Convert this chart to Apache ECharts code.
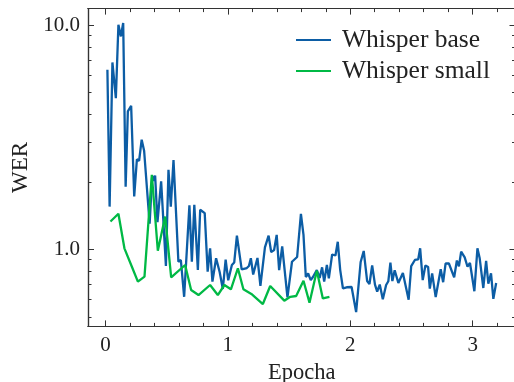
<!DOCTYPE html>
<html>
<head>
<meta charset="utf-8">
<script src="https://cdn.jsdelivr.net/npm/echarts@6/dist/echarts.min.js"></script>
<style>
  html, body { margin: 0; padding: 0; background: #fff; }
  #chart { width: 514px; height: 382px; }
</style>
</head>
<body>
<div id="chart"></div>
<script>
// Whisper base: [epoch, WER]
var baseEpoch = [0.016, 0.034, 0.057, 0.085, 0.106, 0.126, 0.145, 0.165, 0.183, 0.210,
  0.235, 0.257, 0.275, 0.296, 0.316, 0.361, 0.382, 0.395, 0.406, 0.425,
  0.455, 0.494, 0.515, 0.534, 0.556, 0.596, 0.616, 0.643, 0.686, 0.706,
  0.726, 0.755, 0.774, 0.811, 0.835, 0.855, 0.874, 0.904, 0.933, 0.959,
  0.982, 1.003, 1.033, 1.052, 1.074, 1.113, 1.155, 1.172, 1.188, 1.207,
  1.242, 1.266, 1.303, 1.333, 1.354, 1.378, 1.399, 1.419, 1.444, 1.487,
  1.524, 1.566, 1.597, 1.618, 1.637, 1.656, 1.677, 1.694, 1.727, 1.750,
  1.770, 1.787, 1.809, 1.825, 1.852, 1.879, 1.898, 1.918, 1.940, 1.971,
  2.011, 2.048, 2.085, 2.110, 2.138, 2.157, 2.179, 2.202, 2.220, 2.241,
  2.266, 2.293, 2.311, 2.328, 2.344, 2.363, 2.393, 2.430, 2.477, 2.498,
  2.528, 2.555, 2.571, 2.592, 2.614, 2.636, 2.650, 2.669, 2.698, 2.739,
  2.759, 2.779, 2.806, 2.849, 2.871, 2.888, 2.906, 2.935, 2.958, 2.978,
  3.014, 3.039, 3.057, 3.087, 3.110, 3.128, 3.150, 3.169, 3.192];
var baseWer = [6.32, 1.55, 6.81, 4.72, 10.03, 8.90, 10.21, 1.90, 4.12, 4.36,
  1.72, 2.52, 2.48, 3.08, 2.75, 1.30, 2.13, 2.02, 2.13, 1.32,
  2.01, 0.842, 2.26, 1.55, 2.50, 0.880, 0.896, 0.614, 1.57, 0.880,
  1.58, 0.808, 1.50, 1.45, 0.794, 1.01, 0.717, 0.912, 0.792, 0.665,
  0.899, 0.727, 0.851, 0.873, 1.15, 0.814, 0.825, 0.842, 0.912, 0.772,
  0.915, 0.686, 1.02, 1.15, 0.973, 0.993, 1.16, 0.808, 1.03, 0.610,
  0.880, 0.924, 1.44, 1.16, 0.752, 0.780, 0.729, 0.750, 0.808, 0.745,
  0.831, 0.717, 0.851, 0.742, 0.948, 0.938, 1.08, 0.808, 0.670, 0.677,
  0.679, 0.525, 0.878, 0.983, 0.722, 0.700, 0.848, 0.696, 0.647, 0.696,
  0.598, 0.693, 0.720, 0.871, 0.722, 0.806, 0.707, 0.784, 0.596, 0.842,
  0.896, 0.902, 1.01, 0.729, 0.847, 0.834, 0.668, 0.781, 0.612, 0.814,
  0.713, 0.866, 0.864, 0.750, 0.891, 0.840, 0.976, 0.921, 0.836, 0.869,
  0.650, 1.01, 0.915, 0.672, 0.887, 0.702, 0.781, 0.601, 0.707];

// Whisper small: [epoch, WER]
var smallEpoch = [0.041, 0.106, 0.155, 0.216, 0.265, 0.319, 0.379, 0.428, 0.488, 0.537,
  0.651, 0.700, 0.760, 0.855, 0.918, 0.972, 1.025, 1.082, 1.127, 1.199,
  1.286, 1.346, 1.461, 1.510, 1.558, 1.618, 1.667, 1.727, 1.776, 1.830];
var smallWer = [1.33, 1.44, 1.01, 0.836, 0.717, 0.755, 2.15, 0.986, 1.40, 0.750,
  0.851, 0.658, 0.625, 0.693, 0.625, 0.693, 0.663, 0.823, 0.663, 0.628,
  0.570, 0.686, 0.590, 0.614, 0.619, 0.724, 0.578, 0.803, 0.604, 0.614];

var xMajor = [0, 1, 2, 3];
var xMinor = [0.2, 0.4, 0.6, 0.8, 1.2, 1.4, 1.6, 1.8, 2.2, 2.4, 2.6, 2.8, 3.2];
var yMajor = [1, 10];
var yMinor = [0.5, 0.6, 0.7, 0.8, 0.9, 2, 3, 4, 5, 6, 7, 8, 9];

function pairs(xs, ys) {
  return xs.map(function (x, i) { return [x, ys[i]]; });
}

var FONT = 'Liberation Serif';
var AX = '#333';
var X_MIN = -0.1425, X_MAX = 3.35;
var Y_MIN = 0.453, Y_MAX = 11.84;

function xAxisDef(pos, ticks, len, labels) {
  return {
    type: 'value', position: pos, min: X_MIN, max: X_MAX,
    axisLine: { show: true, onZero: false, lineStyle: { color: AX, width: 1.2 } },
    axisTick: { show: true, inside: true, length: len, customValues: ticks, lineStyle: { color: AX, width: 1 } },
    axisLabel: labels ? { show: true, customValues: xMajor, margin: 9, color: '#222', fontFamily: FONT, fontSize: 21 } : { show: false },
    splitLine: { show: false },
    name: labels ? 'Epocha' : '', nameLocation: 'middle', nameGap: 31,
    nameTextStyle: { color: '#222', fontFamily: FONT, fontSize: 22.5 }
  };
}
function yAxisDef(pos, ticks, len, labels) {
  return {
    type: 'log', logBase: 10, position: pos, min: Y_MIN, max: Y_MAX,
    axisLine: { show: true, onZero: false, lineStyle: { color: AX, width: 1.2 } },
    axisTick: { show: true, inside: true, length: len, customValues: ticks, lineStyle: { color: AX, width: 1 } },
    axisLabel: labels ? { show: true, customValues: yMajor, margin: 8, color: '#222', fontFamily: FONT, fontSize: 21,
      formatter: function (v) { return Number(v).toFixed(1); } } : { show: false },
    splitLine: { show: false },
    name: labels ? 'WER' : '', nameLocation: 'middle', nameGap: 53,
    nameTextStyle: { color: '#222', fontFamily: FONT, fontSize: 23 }
  };
}

var chart = echarts.init(document.getElementById('chart'), null, { renderer: 'canvas' });
chart.setOption({
  animation: false,
  backgroundColor: '#fff',
  grid: { left: 88, top: 8.6, width: 427.5, height: 317.8, containLabel: false, outerBoundsMode: 'none' },
  legend: {
    orient: 'vertical', left: 296, top: 27, padding: 0,
    icon: 'rect', itemWidth: 35, itemHeight: 2,
    itemGap: 5,
    textStyle: { fontFamily: FONT, fontSize: 25.5, color: '#222', padding: [0, 0, 0, 6], lineHeight: 22 },
    data: ['Whisper base', 'Whisper small']
  },
  xAxis: [
    xAxisDef('bottom', xMajor, 6, true),
    xAxisDef('bottom', xMinor, 3.5, false),
    xAxisDef('top', xMajor, 6, false),
    xAxisDef('top', xMinor, 3.5, false)
  ],
  yAxis: [
    yAxisDef('left', yMajor, 6, true),
    yAxisDef('left', yMinor, 3.5, false),
    yAxisDef('right', yMajor, 6, false),
    yAxisDef('right', yMinor, 3.5, false)
  ],
  series: [
    {
      name: 'Whisper base', type: 'line', xAxisIndex: 0, yAxisIndex: 0,
      data: pairs(baseEpoch, baseWer), symbol: 'none', color: '#0C5DA5',
      lineStyle: { width: 2.3, color: '#0C5DA5' }
    },
    {
      name: 'Whisper small', type: 'line', xAxisIndex: 0, yAxisIndex: 0,
      data: pairs(smallEpoch, smallWer), symbol: 'none', color: '#00B945',
      lineStyle: { width: 2.3, color: '#00B945' }
    }
  ]
});
</script>
</body>
</html>
